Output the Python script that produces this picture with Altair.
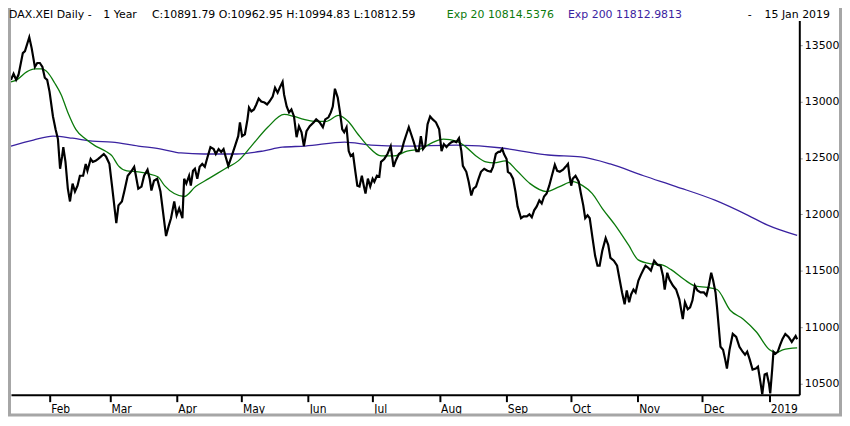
import altair as alt
import pandas as pd

# ---- data (days since 2018-01-15, index level) ----
days_price = [-1.0, 0.2, 1.4, 2.5, 4.5, 5.5, 7.5, 8.6, 10.1, 11.2,
    12.4, 13.6, 14.7, 15.8, 16.9, 18.5, 19.7, 20.8, 21.8, 22.7,
    23.3, 24.3, 25.4, 26.4, 27.6, 28.7, 29.9, 31.0, 32.5, 33.7,
    34.5, 36.0, 37.0, 38.3, 39.5, 40.6, 42.1, 43.2, 44.7, 45.9,
    47.9, 48.9, 50.5, 51.7, 53.2, 54.7, 56.2, 57.0, 58.1, 59.6,
    60.8, 62.4, 63.4, 64.2, 65.4, 66.9, 68.4, 69.5, 71.0, 72.2,
    73.3, 74.8, 75.9, 77.1, 78.6, 79.4, 80.4, 81.7, 82.5, 83.5,
    84.4, 85.5, 86.6, 87.8, 89.0, 90.0, 91.6, 93.1, 94.1, 95.4,
    96.6, 97.7, 98.7, 99.9, 101.5, 103.0, 104.5, 105.3, 106.3, 107.6,
    108.8, 109.5, 110.6, 111.8, 112.9, 114.0, 115.2, 116.7, 117.9, 119.0,
    120.5, 121.6, 122.8, 124.0, 125.1, 125.8, 127.0, 128.1, 129.2, 130.4,
    131.6, 132.7, 133.9, 135.0, 136.2, 137.7, 139.6, 140.7, 142.3, 143.8,
    144.9, 146.4, 147.5, 148.4, 149.4, 150.7, 151.7, 152.8, 153.7, 154.8,
    155.8, 156.7, 157.8, 158.9, 159.8, 160.8, 161.9, 162.8, 163.6, 164.7,
    165.8, 166.9, 167.7, 168.9, 170.0, 170.8, 172.3, 173.8, 175.3, 176.6,
    177.6, 179.1, 180.2, 181.4, 182.6, 183.7, 184.8, 186.0, 187.2, 188.3,
    189.3, 190.3, 191.3, 192.4, 193.6, 194.8, 196.3, 197.8, 198.9, 200.0,
    201.2, 202.4, 203.5, 204.6, 205.8, 207.0, 208.1, 208.8, 210.4, 211.5,
    212.7, 213.7, 214.9, 216.1, 217.2, 218.7, 220.2, 221.8, 222.8, 224.1,
    225.3, 226.0, 227.1, 227.9, 229.1, 229.7, 230.9, 232.1, 233.2, 234.2,
    235.8, 237.0, 238.5, 239.7, 240.8, 241.9, 243.1, 244.3, 245.4, 246.5,
    247.7, 248.9, 250.0, 251.5, 252.6, 253.8, 255.3, 256.5, 257.6, 258.3,
    259.1, 259.8, 261.1, 262.6, 263.6, 264.7, 265.6, 266.7, 267.7, 269.0,
    270.2, 271.3, 272.3, 273.5, 275.1, 276.3, 277.3, 278.9, 280.4, 281.4,
    282.7, 283.9, 284.9, 286.0, 286.9, 288.0, 289.0, 290.3, 291.5, 292.6,
    293.6, 294.9, 296.1, 297.6, 299.1, 300.6, 301.7, 302.5, 303.7, 304.7,
    306.3, 307.8, 309.3, 310.9, 311.9, 313.2, 314.3, 315.4, 316.5, 317.7,
    319.2, 320.7, 321.9, 323.0, 324.1, 325.0, 326.1, 326.8, 327.6, 328.4,
    329.6, 330.6, 331.4, 332.6, 334.1, 335.7, 337.2, 338.7, 339.8, 340.8,
    342.0, 343.3, 344.8, 345.8, 346.9, 347.8, 348.9, 349.9, 350.9, 351.5,
    352.4, 353.0, 353.9, 355.0, 356.1, 357.2, 358.5, 360.0, 361.5, 363.3,
    364.0]

close_price = [13193, 13246, 13193, 13237, 13430, 13447, 13570, 13474, 13307, 13342,
    13342, 13307, 13211, 13193, 13088, 12868, 12754, 12667, 12404, 12509,
    12596, 12465, 12228, 12114, 12272, 12202, 12254, 12342, 12342, 12447,
    12386, 12491, 12465, 12474, 12491, 12509, 12535, 12509, 12447, 12254,
    11921, 12079, 12114, 12211, 12342, 12377, 12421, 12342, 12228, 12246,
    12342, 12395, 12316, 12211, 12298, 12316, 12202, 12035, 11807, 11895,
    11965, 12114, 11991, 12053, 11965, 12316, 12272, 12342, 12254, 12386,
    12404, 12316, 12421, 12447, 12421, 12491, 12596, 12579, 12535, 12579,
    12553, 12579, 12509, 12430, 12518, 12605, 12693, 12816, 12693, 12710,
    12842, 12947, 12912, 12930, 12974, 13026, 13000, 12991, 12974, 13000,
    13044, 13123, 13079, 13132, 13175, 13061, 12956, 12904, 12930, 12868,
    12684, 12781, 12728, 12605, 12737, 12781, 12816, 12842, 12816, 12772,
    12842, 12860, 12904, 12956, 13114, 13035, 12912, 12754, 12728, 12772,
    12561, 12518, 12535, 12377, 12254, 12246, 12342, 12254, 12184, 12316,
    12246, 12316, 12289, 12342, 12333, 12465, 12491, 12535, 12605, 12421,
    12474, 12535, 12553, 12640, 12710, 12772, 12710, 12640, 12561, 12561,
    12693, 12579, 12605, 12798, 12868, 12842, 12816, 12754, 12561, 12623,
    12596, 12623, 12640, 12649, 12640, 12675, 12561, 12430, 12377, 12289,
    12167, 12228, 12246, 12316, 12377, 12404, 12386, 12377, 12421, 12535,
    12553, 12553, 12579, 12535, 12491, 12377, 12360, 12316, 12202, 12070,
    11965, 11982, 11982, 12000, 11974, 12035, 12070, 12123, 12096, 12158,
    12184, 12254, 12333, 12439, 12386, 12377, 12395, 12421, 12447, 12342,
    12254, 12316, 12342, 12289, 12184, 12079, 11965, 11991, 11965, 11789,
    11632, 11544, 11544, 11675, 11789, 11728, 11614, 11588, 11544, 11439,
    11307, 11202, 11325, 11219, 11289, 11333, 11307, 11412, 11465, 11509,
    11544, 11526, 11500, 11588, 11553, 11544, 11456, 11333, 11482, 11421,
    11368, 11333, 11246, 11070, 11219, 11158, 11175, 11237, 11368, 11325,
    11307, 11307, 11281, 11368, 11482, 11412, 11307, 11175, 11000, 10825,
    10798, 10711, 10632, 10798, 10939, 10912, 10825, 10781, 10754, 10781,
    10711, 10623, 10632, 10649, 10518, 10403, 10579, 10588, 10500, 10412,
    10623, 10781, 10763, 10781, 10842, 10895, 10939, 10912, 10868, 10921,
    10892]

days_ema20 = [-1.0, 1.7, 6.3, 10.1, 13.2, 16.2, 19.2, 22.3, 25.4, 29.1,
    33.7, 38.3, 42.8, 45.9, 48.9, 52.8, 58.1, 62.6, 67.2, 70.3,
    74.8, 79.4, 84.7, 90.8, 98.4, 104.5, 110.6, 118.2, 125.8, 130.4,
    135.0, 139.6, 145.6, 151.0, 155.5, 160.1, 164.7, 170.8, 176.8, 182.9,
    189.0, 195.1, 199.7, 205.8, 210.3, 214.9, 219.5, 223.3, 228.6, 233.9,
    240.0, 247.6, 253.7, 259.8, 264.4, 268.9, 273.5, 279.5, 285.7, 290.2,
    296.3, 300.9, 305.5, 311.6, 316.1, 322.3, 326.8, 332.9, 339.0, 345.1,
    351.2, 354.3, 357.3, 364.0]
ema20 = [13175, 13193, 13263, 13289, 13289, 13254, 13167, 13061, 12904, 12754,
    12667, 12605, 12561, 12518, 12430, 12386, 12377, 12360, 12333, 12254,
    12184, 12158, 12246, 12316, 12404, 12474, 12605, 12772, 12886, 12868,
    12842, 12825, 12825, 12877, 12825, 12710, 12605, 12518, 12518, 12561,
    12579, 12640, 12667, 12649, 12596, 12518, 12465, 12456, 12474, 12386,
    12272, 12202, 12246, 12289, 12254, 12184, 12053, 11904, 11728, 11596,
    11561, 11553, 11509, 11421, 11368, 11351, 11333, 11149, 11070, 10956,
    10798, 10772, 10798, 10815]

days_ema200 = [-1.0, 9.4, 18.5, 27.6, 36.8, 45.9, 58.1, 68.7, 77.9, 88.5,
    103.7, 115.9, 125.0, 135.6, 153.9, 166.2, 181.3, 205.9, 227.0, 236.1,
    248.4, 263.5, 277.2, 292.7, 307.8, 326.1, 341.2, 350.3, 364.0]
ema200 = [12605, 12658, 12693, 12675, 12649, 12640, 12605, 12579, 12544, 12535,
    12535, 12561, 12596, 12605, 12640, 12614, 12605, 12614, 12588, 12561,
    12526, 12509, 12447, 12342, 12246, 12123, 11991, 11904, 11813]

y_ticks = [10500, 10750, 11000, 11250, 11500, 11750, 12000, 12250, 12500,
           12750, 13000, 13250, 13500]
tick_months = [(2018, m) for m in range(2, 13)] + [(2019, 1)]
tick_labels = ["Feb", "Mar", "Apr", "May", "Jun", "Jul", "Aug", "Sep", "Oct",
               "Nov", "Dec", "2019"]

header_left = "DAX.XEI Daily -"
header_period = "1 Year"
header_ohlc = "C:10891.79 O:10962.95 H:10994.83 L:10812.59"
header_ema20 = "Exp 20 10814.5376"
header_ema200 = "Exp 200 11812.9813"
header_dash = "-"
header_date = "15 Jan 2019"

BASE = pd.Timestamp("2018-01-15")


def to_iso(days):
    ts = BASE + pd.to_timedelta(days, unit="D")
    return [t.strftime("%Y-%m-%dT%H:%M:%SZ") for t in ts]


df_price = pd.DataFrame({"t": to_iso(days_price), "v": close_price})
df_e20 = pd.DataFrame({"t": to_iso(days_ema20), "v": ema20})
df_e200 = pd.DataFrame({"t": to_iso(days_ema200), "v": ema200})

W, H = 794, 377
PAD = {"left": 3, "top": 11, "right": 43, "bottom": 22}
FONT = "DejaVu Sans"
GREEN = "#0b7a0b"
PURPLE = "#3a22a0"

label_map = "{" + ", ".join(
    f"'{y}-{m:02d}': '{lab}'" for (y, m), lab in zip(tick_months, tick_labels)
) + "}"

x_enc = alt.X(
    "t:T",
    scale=alt.Scale(
        type="utc",
        domain=[alt.DateTime(year=2018, month=1, date=14, utc=True),
                alt.DateTime(year=2019, month=1, date=15, utc=True)],
    ),
    axis=alt.Axis(
        values=[alt.DateTime(year=y, month=m, date=1, utc=True) for y, m in tick_months],
        labelExpr=label_map + "[utcFormat(datum.value, '%Y-%m')]",
        orient="bottom", title=None, grid=False,
        domainColor="black", domainWidth=2,
        tickColor="black", tickWidth=2, tickSize=7,
        labelAlign="left", labelBaseline="top", labelPadding=2, labelOffset=1,
        labelFont="DejaVu Sans Condensed, Liberation Sans Narrow, DejaVu Sans",
        labelFontSize=12, labelColor="black",
    ),
)
y_enc = alt.Y(
    "v:Q",
    scale=alt.Scale(domain=[10400, 13720], nice=False, zero=False),
    axis=alt.Axis(
        values=y_ticks, format="d", orient="right", title=None, grid=False,
        domainColor="black", domainWidth=2,
        tickColor="#999999", tickWidth=1, tickSize=3,
        labelPadding=2, labelFont=FONT, labelFontSize=11, labelColor="black",
    ),
)

one = pd.DataFrame({"k": [0]})

frame = alt.Chart(one).mark_rect(filled=False, stroke="#a6a6a6", strokeWidth=3).encode(
    x=alt.value(-1.5), x2=alt.value(W + PAD["right"] - 1.5),
    y=alt.value(-40), y2=alt.value(H + PAD["bottom"] - 1.5),
)

price = alt.Chart(df_price).mark_line(color="black", strokeWidth=2.2, clip=True).encode(x=x_enc, y=y_enc)
l20 = alt.Chart(df_e20).mark_line(color=GREEN, strokeWidth=1.3, interpolate="monotone", clip=True).encode(x="t:T", y="v:Q")
l200 = alt.Chart(df_e200).mark_line(color=PURPLE, strokeWidth=1.3, interpolate="monotone", clip=True).encode(x="t:T", y="v:Q")


def header(text, x, color="black"):
    return alt.Chart(one).mark_text(
        text=text, color=color, align="left", baseline="alphabetic",
        font=FONT, fontSize=11,
    ).encode(x=alt.value(x), y=alt.value(-2.5))


texts = [
    header(header_left, -2),
    header(header_period, 93),
    header(header_ohlc, 142),
    header(header_ema20, 439, GREEN),
    header(header_ema200, 561, PURPLE),
    header(header_dash, 742),
    header(header_date, 759),
]

chart = alt.layer(frame, l200, l20, price, *texts).properties(
    width=W, height=H, padding=PAD,
    autosize=alt.AutoSizeParams(type="none"),
    background="white",
).configure_view(strokeWidth=0)

chart.save("out.html", embed_options={"renderer": "svg", "actions": False})
